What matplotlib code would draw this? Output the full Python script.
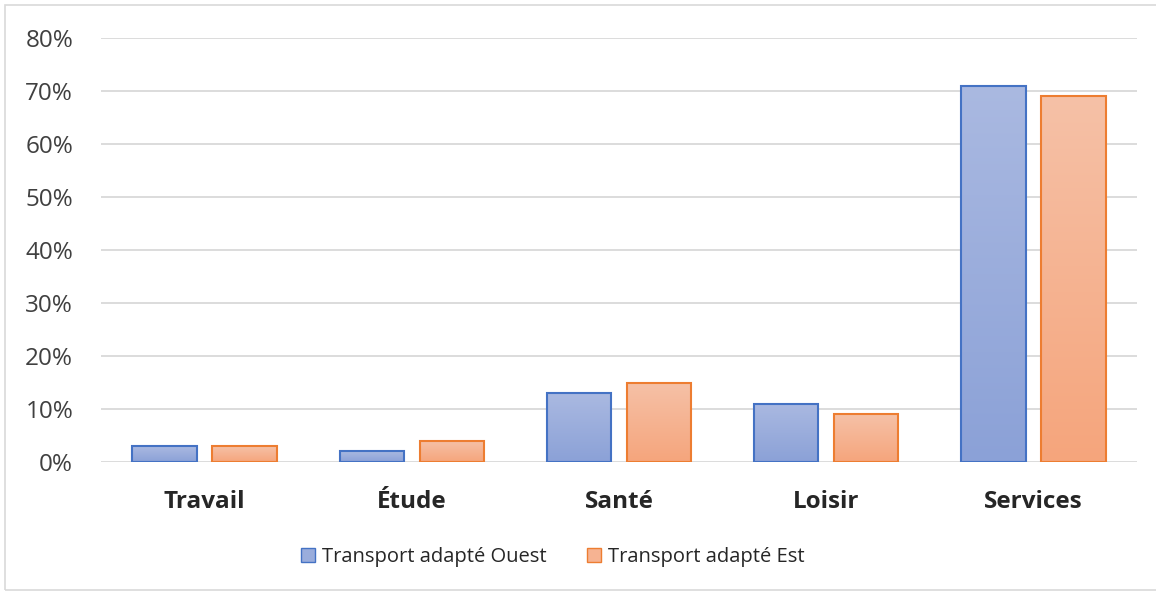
import matplotlib.pyplot as plt
import numpy as np
from matplotlib.colors import LinearSegmentedColormap
from matplotlib.patches import Rectangle, Patch
from matplotlib.ticker import PercentFormatter

categories = ["Travail", "Étude", "Santé", "Loisir", "Services"]
ouest = [3, 2, 13, 11, 71]
est = [3, 4, 15, 9, 69]
series_names = ["Transport adapté Ouest", "Transport adapté Est"]

plt.rcParams['font.family'] = ['Open Sans', 'DejaVu Sans']


def gradient_bars(ax, bars, top_color, bottom_color):
    cmap = LinearSegmentedColormap.from_list("g", [bottom_color, top_color])
    grad = np.linspace(0, 1, 256).reshape(-1, 1)
    for b in bars:
        x, y = b.get_x(), b.get_y()
        w, h = b.get_width(), b.get_height()
        im = ax.imshow(grad, cmap=cmap, aspect='auto', origin='lower',
                       extent=[x, x + w, y, y + h], zorder=b.get_zorder() - 0.1)
        im.set_clip_path(b)


fig = plt.figure(figsize=(11.56, 5.95), dpi=100)
ax = fig.add_axes([101 / 1156, 1 - 462 / 595, 1036 / 1156, 424 / 595])

x = np.arange(len(categories))
w = 0.31
off = 0.193
b1 = ax.bar(x - off, ouest, w, facecolor='none', edgecolor='#4472C4', linewidth=1.5, zorder=3)
b2 = ax.bar(x + off, est, w, facecolor='none', edgecolor='#ED7D31', linewidth=1.5, zorder=3)
gradient_bars(ax, b1, '#AAB9E1', '#8BA1D7')
gradient_bars(ax, b2, '#F6C1A7', '#F5A57C')

ax.set_xlim(-0.5, len(categories) - 0.5)
ax.set_ylim(0, 80)
ax.set_yticks(range(0, 81, 10))
ax.yaxis.set_major_formatter(PercentFormatter(decimals=0))
ax.set_xticks(x)
ax.set_xticklabels(categories, fontweight='bold', fontsize=17.5, color='#262626')
ax.tick_params(axis='y', labelsize=17.5, colors='#404040', length=0, pad=20)
ax.tick_params(axis='x', length=0, pad=20)
ax.grid(axis='y', color='#D9D9D9', linewidth=1.3, zorder=0)
ax.set_axisbelow(True)
for s in ax.spines.values():
    s.set_visible(False)

handles = [Patch(facecolor='#9AADDC', edgecolor='#4472C4'),
           Patch(facecolor='#F6B392', edgecolor='#ED7D31')]
fig.legend(handles, series_names, loc='center', bbox_to_anchor=(553 / 1156, 1 - 557 / 595),
           ncol=2, frameon=False, fontsize=14.5, handlelength=0.7, handleheight=0.7,
           handletextpad=0.35, columnspacing=2.0, labelcolor='#262626')

fig.patches.append(Rectangle((5 / 1156, 5 / 595), 1.1, 585 / 595, transform=fig.transFigure,
                             fill=False, edgecolor='#D9D9D9', linewidth=1.2))

fig.savefig('out.png', dpi=100)
